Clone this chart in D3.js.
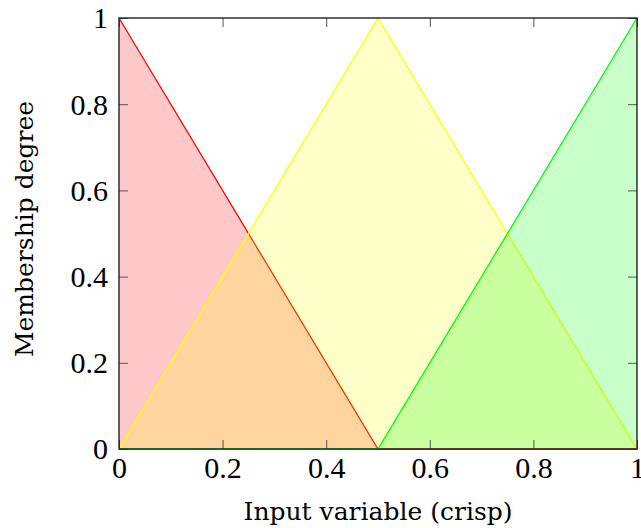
<!DOCTYPE html>
<html lang="en">
<head>
<meta charset="UTF-8">
<title>Membership functions</title>
<style>
  body { margin: 0; background: #fff; }
</style>
</head>
<body>
<script src="https://d3js.org/d3.v7.min.js"></script>
<script>
// membership function vertices (input, degree)
const xs = [0, 0.5, 1];
const lowDeg = [1, 0, 0];
const midDeg = [0, 1, 0];
const highDeg = [0, 0, 1];
const tickVals = [0, 0.2, 0.4, 0.6, 0.8, 1];
const tickLabels = ["0", "0.2", "0.4", "0.6", "0.8", "1"];

const width = 641, height = 528,
    margin = {top: 18, right: 4, bottom: 79, left: 119};

const x = d3.scaleLinear().domain([0, 1]).range([margin.left, width - margin.right]);
const y = d3.scaleLinear().domain([0, 1]).range([height - margin.bottom, margin.top]);

const svg = d3.select("body").append("svg")
    .attr("width", width)
    .attr("height", height);

const series = [
    {deg: lowDeg, color: "#ff0000"},
    {deg: midDeg, color: "#ffff00"},
    {deg: highDeg, color: "#00ff00"}
];

const line = d3.line().x(d => x(d[0])).y(d => y(d[1]));

series.forEach(function(s) {
    const pts = xs.map((v, i) => [v, s.deg[i]]);
    // fill down to zero
    const area = pts.slice();
    area.push([xs[xs.length - 1], 0], [xs[0], 0]);
    svg.append("path")
        .attr("d", line(area) + "Z")
        .attr("fill", s.color)
        .attr("fill-opacity", 0.21)
        .attr("stroke", "none");
    svg.append("path")
        .attr("d", line(pts))
        .attr("fill", "none")
        .attr("stroke", s.color)
        .attr("stroke-width", 1.3);
});

// axes with inward ticks on all sides
const fmt = d => tickLabels[tickVals.indexOf(d)];
const tickLen = 9;
const tickFont = "'Liberation Serif', 'Times New Roman', serif";

svg.append("g")
    .attr("transform", `translate(0,${y(0)})`)
    .call(d3.axisBottom(x).tickValues(tickVals).tickFormat(fmt).tickSizeInner(-tickLen).tickSizeOuter(0).tickPadding(9))
    .call(g => g.select(".domain").remove())
    .call(g => g.selectAll("text").style("font-family", tickFont).style("font-size", "30px").attr("fill", "#000").attr("dy", "0.66em"));

svg.append("g")
    .attr("transform", `translate(${x(0)},0)`)
    .call(d3.axisLeft(y).tickValues(tickVals).tickFormat(fmt).tickSizeInner(-tickLen).tickSizeOuter(0).tickPadding(11))
    .call(g => g.select(".domain").remove())
    .call(g => g.selectAll("text").style("font-family", tickFont).style("font-size", "30px").attr("fill", "#000").attr("dy", "0.33em"));

svg.append("g")
    .attr("transform", `translate(0,${y(1)})`)
    .call(d3.axisTop(x).tickValues(tickVals).tickFormat("").tickSizeInner(-tickLen).tickSizeOuter(0))
    .call(g => g.select(".domain").remove());

svg.append("g")
    .attr("transform", `translate(${x(1)},0)`)
    .call(d3.axisRight(y).tickValues(tickVals).tickFormat("").tickSizeInner(-tickLen).tickSizeOuter(0))
    .call(g => g.select(".domain").remove());

svg.selectAll(".tick line").attr("stroke", "#555").attr("stroke-width", 1);

// frame
svg.append("rect")
    .attr("x", x(0)).attr("y", y(1))
    .attr("width", x(1) - x(0)).attr("height", y(0) - y(1))
    .attr("fill", "none")
    .attr("stroke", "#222")
    .attr("stroke-width", 1.4);

// axis labels
svg.append("text")
    .attr("x", 378)
    .attr("y", 520)
    .attr("text-anchor", "middle")
    .style("font-family", "'DejaVu Serif', serif")
    .style("font-size", "25px")
    .text("Input variable (crisp)");

svg.append("text")
    .attr("transform", `translate(33,229) rotate(-90)`)
    .attr("text-anchor", "middle")
    .style("font-family", "'DejaVu Serif', serif")
    .style("font-size", "25px")
    .text("Membership degree");
</script>
</body>
</html>
